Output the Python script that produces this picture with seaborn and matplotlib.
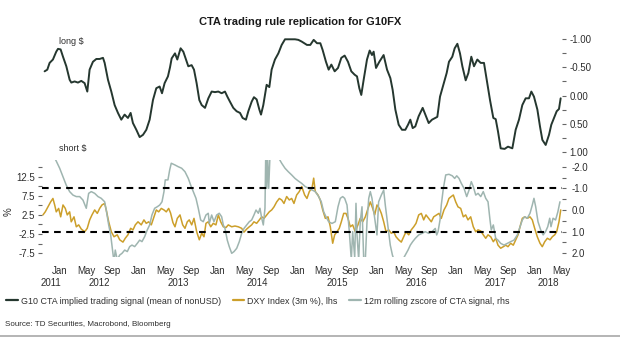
import matplotlib
matplotlib.use("Agg")
import matplotlib.pyplot as plt
import matplotlib.transforms as mtransforms
from matplotlib.lines import Line2D
import numpy as np
import pandas as pd
import seaborn as sns

sns.set_style("white")
plt.rcParams["font.family"] = ["Liberation Sans", "DejaVu Sans"]

# ---------------- data (x in decimal years) ----------------
cta_year = [2011.810, 2011.844, 2011.873, 2011.915, 2011.957, 2011.979, 2012.012, 2012.042, 2012.084, 2012.126,
            2012.147, 2012.189, 2012.231, 2012.273, 2012.315, 2012.349, 2012.378, 2012.420, 2012.463, 2012.505,
            2012.547, 2012.568, 2012.610, 2012.652, 2012.694, 2012.736, 2012.778, 2012.820, 2012.862, 2012.896,
            2012.925, 2012.968, 2013.010, 2013.052, 2013.094, 2013.136, 2013.178, 2013.220, 2013.262, 2013.292,
            2013.325, 2013.367, 2013.393, 2013.414, 2013.456, 2013.485, 2013.527, 2013.561, 2013.595, 2013.624,
            2013.666, 2013.696, 2013.729, 2013.763, 2013.793, 2013.835, 2013.877, 2013.919, 2013.961, 2014.003,
            2014.045, 2014.087, 2014.117, 2014.150, 2014.192, 2014.234, 2014.277, 2014.310, 2014.352, 2014.382,
            2014.424, 2014.453, 2014.487, 2014.521, 2014.542, 2014.571, 2014.613, 2014.647, 2014.676, 2014.718,
            2014.761, 2014.803, 2014.845, 2014.908, 2014.971, 2015.013, 2015.055, 2015.122, 2015.164, 2015.207,
            2015.249, 2015.291, 2015.320, 2015.362, 2015.396, 2015.430, 2015.472, 2015.514, 2015.556, 2015.598,
            2015.640, 2015.682, 2015.724, 2015.754, 2015.783, 2015.808, 2015.838, 2015.880, 2015.914, 2015.943,
            2015.964, 2015.994, 2016.036, 2016.090, 2016.133, 2016.175, 2016.204, 2016.238, 2016.280, 2016.322,
            2016.364, 2016.398, 2016.427, 2016.457, 2016.490, 2016.532, 2016.583, 2016.625, 2016.659, 2016.701,
            2016.743, 2016.768, 2016.802, 2016.844, 2016.886, 2016.915, 2016.957, 2016.987, 2017.021, 2017.054,
            2017.084, 2017.126, 2017.160, 2017.197, 2017.231, 2017.273, 2017.315, 2017.357, 2017.391, 2017.433,
            2017.475, 2017.505, 2017.534, 2017.568, 2017.618, 2017.660, 2017.715, 2017.757, 2017.799, 2017.841,
            2017.883, 2017.925, 2017.955, 2017.988, 2018.031, 2018.064, 2018.094, 2018.136, 2018.178, 2018.207,
            2018.241, 2018.275, 2018.304, 2018.325]
cta_signal = [-0.43, -0.46, -0.58, -0.64, -0.78, -0.83, -0.82, -0.69, -0.52, -0.28,
              -0.23, -0.25, -0.23, -0.26, -0.22, -0.07, -0.46, -0.60, -0.65, -0.65,
              -0.67, -0.58, -0.28, -0.07, 0.17, 0.31, 0.43, 0.34, 0.40, 0.31,
              0.49, 0.61, 0.74, 0.70, 0.61, 0.43, 0.08, -0.13, -0.16, -0.04,
              -0.22, -0.34, -0.50, -0.66, -0.75, -0.64, -0.84, -0.78, -0.64, -0.52,
              -0.54, -0.46, -0.22, 0.08, 0.17, 0.22, 0.05, -0.07, -0.06, -0.07,
              -0.04, -0.07, 0.02, 0.11, 0.22, 0.28, 0.31, 0.40, 0.43, 0.28,
              0.11, 0.03, 0.07, 0.25, 0.34, 0.17, -0.19, -0.15, -0.46, -0.64,
              -0.75, -0.90, -1.00, -1.00, -1.00, -0.99, -0.96, -0.90, -0.90, -0.99,
              -0.93, -0.93, -0.81, -0.60, -0.46, -0.55, -0.43, -0.49, -0.67, -0.71,
              -0.60, -0.43, -0.37, -0.34, -0.13, -0.01, -0.28, -0.64, -0.80, -0.72,
              -0.78, -0.49, -0.60, -0.72, -0.46, -0.31, -0.10, 0.25, 0.52, 0.61,
              0.61, 0.52, 0.43, 0.58, 0.55, 0.37, 0.22, 0.37, 0.49, 0.43,
              0.40, 0.38, 0.02, -0.19, -0.40, -0.60, -0.69, -0.84, -0.92, -0.75,
              -0.52, -0.27, -0.40, -0.69, -0.52, -0.64, -0.58, -0.58, -0.28, 0.08,
              0.40, 0.42, 0.64, 0.94, 0.95, 0.91, 0.94, 0.61, 0.43, 0.17,
              0.05, 0.05, -0.07, 0.02, 0.25, 0.55, 0.79, 0.88, 0.70, 0.52,
              0.40, 0.28, 0.24, 0.05]

dxy_year = [2011.789, 2011.818, 2011.852, 2011.886, 2011.915, 2011.937, 2011.957, 2011.987, 2012.013, 2012.042,
            2012.071, 2012.096, 2012.126, 2012.146, 2012.181, 2012.210, 2012.240, 2012.273, 2012.316, 2012.348,
            2012.379, 2012.408, 2012.442, 2012.475, 2012.505, 2012.534, 2012.568, 2012.588, 2012.619, 2012.652,
            2012.686, 2012.727, 2012.758, 2012.799, 2012.828, 2012.862, 2012.896, 2012.926, 2012.955, 2012.989,
            2013.030, 2013.064, 2013.093, 2013.124, 2013.157, 2013.191, 2013.220, 2013.250, 2013.283, 2013.317,
            2013.346, 2013.376, 2013.400, 2013.430, 2013.456, 2013.485, 2013.519, 2013.553, 2013.582, 2013.611,
            2013.636, 2013.667, 2013.696, 2013.730, 2013.763, 2013.793, 2013.822, 2013.847, 2013.876, 2013.907,
            2013.939, 2013.973, 2014.003, 2014.033, 2014.066, 2014.100, 2014.129, 2014.172, 2014.213, 2014.255,
            2014.298, 2014.327, 2014.361, 2014.394, 2014.424, 2014.453, 2014.487, 2014.520, 2014.551, 2014.580,
            2014.614, 2014.646, 2014.677, 2014.706, 2014.740, 2014.773, 2014.803, 2014.832, 2014.866, 2014.899,
            2014.929, 2014.958, 2014.992, 2015.025, 2015.056, 2015.093, 2015.122, 2015.152, 2015.186, 2015.207,
            2015.227, 2015.261, 2015.290, 2015.321, 2015.354, 2015.388, 2015.417, 2015.447, 2015.472, 2015.501,
            2015.530, 2015.556, 2015.586, 2015.615, 2015.640, 2015.669, 2015.699, 2015.732, 2015.766, 2015.795,
            2015.826, 2015.859, 2015.893, 2015.922, 2015.952, 2015.977, 2016.006, 2016.035, 2016.061, 2016.091,
            2016.120, 2016.154, 2016.187, 2016.217, 2016.246, 2016.280, 2016.313, 2016.343, 2016.372, 2016.407,
            2016.439, 2016.470, 2016.499, 2016.533, 2016.566, 2016.596, 2016.625, 2016.659, 2016.692, 2016.722,
            2016.760, 2016.789, 2016.818, 2016.852, 2016.886, 2016.915, 2016.944, 2016.970, 2017.000, 2017.029,
            2017.063, 2017.096, 2017.126, 2017.155, 2017.189, 2017.222, 2017.253, 2017.282, 2017.316, 2017.348,
            2017.379, 2017.408, 2017.442, 2017.475, 2017.505, 2017.534, 2017.568, 2017.601, 2017.631, 2017.660,
            2017.694, 2017.727, 2017.758, 2017.787, 2017.812, 2017.841, 2017.871, 2017.904, 2017.938, 2017.967,
            2017.997, 2018.030, 2018.064, 2018.093, 2018.124, 2018.157, 2018.191, 2018.220, 2018.250, 2018.275,
            2018.304, 2018.326]
dxy_3m = [2.5, 3.3, 4.6, 5.9, 6.8, 5.1, 3.3, 4.2, 2.0, 5.1,
          4.2, 2.5, 3.3, 0.7, 2.0, -0.6, -0.1, -1.2, -1.9, -1.0,
          1.2, 2.5, 3.8, 2.9, 4.2, 5.1, 5.5, 3.8, 0.7, -1.9,
          -3.2, -2.7, -4.0, -4.6, -3.6, -2.7, -1.0, -1.4, -0.1, 0.7,
          -0.1, 1.2, 0.3, 0.7, -0.1, 2.0, 3.8, 3.3, 4.2, 3.8,
          3.3, 4.2, 3.0, 0.5, -0.6, 1.6, 2.5, -0.1, -1.0, 0.7,
          1.2, -0.1, 1.6, -1.9, -4.0, -2.3, -3.2, 0.3, 0.7, -0.6,
          0.3, -0.1, 2.5, 0.7, -0.6, -0.8, -0.1, -0.6, -0.4, -0.6,
          -1.0, -2.0, -1.2, -0.6, -0.1, 0.7, 0.3, 1.2, 2.0, 1.6,
          2.5, 3.3, 3.8, 4.6, 5.9, 6.8, 6.4, 5.5, 7.3, 6.4,
          6.8, 5.5, 7.7, 8.6, 9.9, 7.7, 6.8, 8.6, 9.5, 12.1,
          8.6, 7.7, 6.4, 3.8, 1.6, 2.0, -0.6, -4.9, -2.7, -1.9,
          -1.0, 0.7, 2.9, 2.9, 1.6, -0.6, -0.1, -1.9, -0.1, 1.6,
          0.7, 2.0, 4.2, 5.9, 4.2, 2.5, 5.1, 4.2, 2.9, 0.7,
          -1.9, -1.4, -2.3, -1.9, -3.2, -4.0, -4.6, -3.2, -1.9, -2.7,
          -1.4, -0.6, 0.3, 2.5, 2.9, 1.2, 2.5, 1.6, 0.7, 2.0,
          2.5, 2.9, 1.6, 3.8, 5.1, 6.8, 7.3, 7.7, 5.9, 4.6,
          4.2, 2.0, 2.5, 1.2, 2.0, -0.6, -1.9, -1.4, -1.7, -2.7,
          -3.6, -2.7, -3.2, -4.5, -3.6, -5.4, -6.2, -5.8, -5.4, -5.8,
          -4.9, -5.4, -4.0, -2.7, -0.6, 1.6, 2.0, 1.6, 2.0, 1.2,
          -1.0, -3.2, -4.9, -5.8, -4.5, -3.6, -4.0, -3.2, -2.7, -1.9,
          0.7, 3.8]

z_year = [2011.930, 2011.957, 2012.000, 2012.042, 2012.083, 2012.126, 2012.168, 2012.210, 2012.253, 2012.294,
          2012.336, 2012.366, 2012.399, 2012.442, 2012.484, 2012.525, 2012.568, 2012.588, 2012.619, 2012.644,
          2012.660, 2012.686, 2012.702, 2012.727, 2012.758, 2012.787, 2012.821, 2012.854, 2012.884, 2012.913,
          2012.947, 2012.980, 2013.010, 2013.039, 2013.073, 2013.106, 2013.136, 2013.165, 2013.199, 2013.232,
          2013.263, 2013.292, 2013.317, 2013.333, 2013.367, 2013.389, 2013.409, 2013.456, 2013.497, 2013.540,
          2013.582, 2013.624, 2013.654, 2013.687, 2013.721, 2013.750, 2013.780, 2013.813, 2013.847, 2013.876,
          2013.889, 2013.919, 2013.948, 2013.982, 2014.015, 2014.045, 2014.066, 2014.087, 2014.116, 2014.141,
          2014.172, 2014.201, 2014.235, 2014.268, 2014.298, 2014.327, 2014.361, 2014.394, 2014.424, 2014.453,
          2014.479, 2014.508, 2014.529, 2014.551, 2014.571, 2014.592, 2014.601, 2014.614, 2014.626, 2014.639,
          2014.655, 2014.700, 2014.750, 2014.803, 2014.845, 2014.886, 2014.929, 2014.971, 2015.013, 2015.056,
          2015.101, 2015.144, 2015.186, 2015.227, 2015.270, 2015.303, 2015.333, 2015.362, 2015.396, 2015.438,
          2015.480, 2015.514, 2015.543, 2015.573, 2015.598, 2015.628, 2015.657, 2015.682, 2015.699, 2015.725,
          2015.741, 2015.754, 2015.775, 2015.795, 2015.817, 2015.838, 2015.859, 2015.880, 2015.902, 2015.922,
          2015.943, 2015.977, 2016.006, 2016.027, 2016.061, 2016.091, 2016.111, 2016.145, 2016.174, 2016.201,
          2016.230, 2016.300, 2016.364, 2016.398, 2016.427, 2016.457, 2016.490, 2016.533, 2016.574, 2016.616,
          2016.659, 2016.701, 2016.742, 2016.760, 2016.777, 2016.802, 2016.818, 2016.844, 2016.874, 2016.915,
          2016.957, 2016.987, 2017.013, 2017.042, 2017.071, 2017.105, 2017.139, 2017.168, 2017.197, 2017.222,
          2017.253, 2017.282, 2017.316, 2017.348, 2017.379, 2017.408, 2017.433, 2017.449, 2017.475, 2017.505,
          2017.534, 2017.568, 2017.610, 2017.652, 2017.694, 2017.736, 2017.778, 2017.813, 2017.841, 2017.871,
          2017.904, 2017.938, 2017.967, 2017.988, 2018.010, 2018.039, 2018.073, 2018.104, 2018.134, 2018.162,
          2018.187, 2018.203, 2018.229, 2018.261, 2018.290, 2018.316]
z_score = [-2.45, -2.26, -1.93, -1.54, -1.15, -0.85, -0.69, -0.62, -0.62, -0.46,
           -0.08, -0.77, -0.85, -0.77, -0.62, -0.54, -0.38, 0.00, 0.69, 1.15,
           1.62, 2.40, 1.85, 2.30, 2.08, 2.00, 1.85, 1.92, 1.69, 1.62,
           1.69, 1.54, 1.39, 1.46, 1.23, 0.92, 0.69, 0.23, -0.08, -0.15,
           -0.23, -0.38, -0.85, -1.39, -1.39, -1.85, -2.16, -2.08, -2.00, -1.93,
           -1.77, -1.46, -1.15, -0.85, -0.54, -0.08, 0.46, 0.54, 0.23, 0.15,
           0.62, 0.23, 0.54, 0.23, 0.15, 0.31, 0.69, 0.85, 1.39, 1.69,
           2.00, 1.92, 1.77, 1.46, 1.08, 0.85, 0.69, 0.54, 0.46, 0.23,
           0.00, 0.15, -0.08, 0.38, 0.69, -0.08, -2.40, -1.00, -2.40, -1.00,
           -2.50, -2.60, -2.50, -2.16, -1.93, -1.77, -1.62, -1.46, -1.34, -1.23,
           -1.08, -1.00, -0.92, -0.85, -0.62, -0.38, 0.08, 0.31, 0.54, 0.62,
           0.54, -0.15, -0.54, -0.62, -0.54, -0.23, 1.00, 2.30, 1.00, 2.20,
           -0.31, 1.15, 2.30, 0.54, -0.15, 2.20, 2.30, 0.54, -0.54, -0.85,
           -0.54, 0.38, 1.15, -0.38, -0.69, -0.92, -0.23, 0.77, 1.62, 2.08,
           2.40, 2.50, 2.08, 1.85, 1.62, 1.46, 1.31, 1.15, 1.08, 1.00,
           1.08, 1.00, 0.85, 1.15, 1.00, 0.46, -0.23, -1.00, -1.62, -1.65,
           -1.58, -1.46, -1.58, -1.46, -1.23, -1.00, -0.62, -0.92, -1.31, -1.08,
           -0.69, -0.77, -0.62, -0.85, -0.54, -0.38, 0.46, 0.92, 0.69, 1.31,
           1.39, 1.54, 1.62, 1.54, 1.46, 1.39, 1.15, 0.77, 0.46, 0.31,
           0.38, 0.15, -0.23, -0.54, -0.15, 0.54, 0.92, 1.15, 1.00, 0.77,
           0.38, 0.77, 0.38, 0.46, 0.08, -0.38]

top_ticks = [-1.0, -0.75, -0.5, -0.25, 0.0, 0.25, 0.5, 0.75, 1.0]
top_labels = ["-1.00", "", "-0.50", "", "0.00", "", "0.50", "", "1.00"]
lhs_ticks = [15, 12.5, 10, 7.5, 5, 2.5, 0, -2.5, -5, -7.5]
lhs_labels = ["", "12.5", "", "7.5", "", "2.5", "", "-2.5", "", "-7.5"]
rhs_ticks = [-2.0, -1.5, -1.0, -0.5, 0.0, 0.5, 1.0, 1.5, 2.0]
rhs_labels = ["-2.0", "", "-1.0", "", "0.0", "", "1.0", "", "2.0"]
signal_bands = [-1.0, 1.0]
years = [2011, 2012, 2013, 2014, 2015, 2016, 2017, 2018]

title = "CTA trading rule replication for G10FX"
legend_names = ["G10 CTA implied trading signal (mean of nonUSD)",
                "DXY Index (3m %), lhs",
                "12m rolling zscore of CTA signal, rhs"]
source = "Source: TD Securities, Macrobond, Bloomberg"

# ---------------- styling ----------------
C_CTA = "#25372f"
C_DXY = "#cc9f2a"
C_Z = "#9fb5b0"
C_TXT = "#2e2e2e"
C_TICK = "#666666"

W, H = 620, 338
fig = plt.figure(figsize=(W / 100, H / 100), dpi=100)
fig.patch.set_facecolor("white")

x0, x1 = 42 / W, 562 / W
ax_top = fig.add_axes([x0, 1 - 156.2 / H, x1 - x0, (156.2 - 34.8) / H])
ax_bot = fig.add_axes([x0, 1 - 257 / H, x1 - x0, (257 - 160) / H])
ax_z = ax_bot.twinx()

XMIN, XMAX = 2011.777, 2018.342

cta = pd.DataFrame({"year": cta_year, "signal": cta_signal})
dxy = pd.DataFrame({"year": dxy_year, "pct": dxy_3m})
zs = pd.DataFrame({"year": z_year, "z": z_score})

sns.lineplot(data=cta, x="year", y="signal", ax=ax_top, color=C_CTA, lw=1.4)
sns.lineplot(data=dxy, x="year", y="pct", ax=ax_bot, color=C_DXY, lw=1.1)
sns.lineplot(data=zs, x="year", y="z", ax=ax_z, color=C_Z, lw=1.1)
for b in signal_bands:
    ax_z.axhline(b, color="black", lw=1.5, ls=(0, (3.2, 2.6)), zorder=5)

for ax in (ax_top, ax_bot, ax_z):
    ax.set_xlim(XMIN, XMAX)
    for s in ax.spines.values():
        s.set_visible(False)
    ax.set_xlabel("")
    ax.set_ylabel("")
    ax.set_facecolor("none")
    ax.grid(False)

# top panel: inverted right axis
ax_top.set_ylim(1.08, -1.08)
ax_top.set_xticks([])
ax_top.yaxis.tick_right()
ax_top.set_yticks(top_ticks)
ax_top.set_yticklabels(top_labels)
ax_top.tick_params(axis="y", direction="out", length=2.6, width=0.8, color=C_TICK,
                   labelsize=7, labelcolor=C_TXT, pad=3)

# bottom panel: lhs percent, rhs inverted zscore
ax_bot.set_ylim(-8.49, 16.84)
ax_bot.set_yticks(lhs_ticks)
ax_bot.set_yticklabels(lhs_labels)
ax_bot.tick_params(axis="y", direction="out", length=2.6, width=0.8, color=C_TICK,
                   labelsize=7, labelcolor=C_TXT, pad=2.5)
ax_z.set_ylim(2.17, -2.31)
ax_z.set_yticks(rhs_ticks)
ax_z.set_yticklabels(rhs_labels)
ax_z.tick_params(axis="y", direction="out", length=2.6, width=0.8, color=C_TICK,
                 labelsize=7, labelcolor=C_TXT, pad=4)

# month ticks (Jan as major, May/Sep as minor)
jan = [y + 0.0 for y in range(2012, 2019)]
mid = [y + m for y in range(2012, 2019) for m in (1 / 3, 2 / 3) if y + m < XMAX]
ax_bot.set_xticks(jan)
ax_bot.set_xticklabels(["Jan"] * len(jan))
ax_bot.set_xticks(mid, minor=True)
ax_bot.set_xticklabels(["May" if abs(v % 1 - 1 / 3) < 0.01 else "Sep" for v in mid], minor=True)
ax_bot.tick_params(axis="x", which="major", direction="out", length=3, width=0.8,
                   color=C_TICK, labelsize=7, labelcolor=C_TXT, pad=3.2)
ax_bot.tick_params(axis="x", which="minor", direction="out", length=1.8, width=0.8,
                   color=C_TICK, labelsize=7, labelcolor=C_TXT, pad=4.4)

# year labels centred under the visible part of each year
yt = mtransforms.blended_transform_factory(ax_bot.transData, fig.transFigure)
for y in years:
    a, b = max(y, XMIN), min(y + 1, XMAX)
    if b > a:
        ax_bot.text((a + b) / 2, 1 - 283 / H, str(y), transform=yt, ha="center",
                    va="center", fontsize=7, color=C_TXT)

fig.text(300 / W, 1 - 22 / H, title, ha="center", va="center", fontsize=8,
         fontweight="bold", color="#1a1a1a")
fig.text(59 / W, 1 - 41 / H, "long $", ha="left", va="center", fontsize=6.5, color=C_TXT)
fig.text(59 / W, 1 - 149 / H, "short $", ha="left", va="center", fontsize=6.5, color=C_TXT)
fig.text(9 / W, 1 - 212 / H, "%", ha="center", va="center", rotation=90, fontsize=7, color=C_TXT)

handles = [Line2D([], [], color=C_CTA, lw=1.6), Line2D([], [], color=C_DXY, lw=1.6),
           Line2D([], [], color=C_Z, lw=1.6)]
fig.legend(handles, legend_names, loc="center left", bbox_to_anchor=(0.0, 1 - 301 / H),
           ncol=3, frameon=False, fontsize=6.4, handlelength=1.3, handletextpad=0.35,
           columnspacing=1.3, labelcolor=C_TXT, borderaxespad=0.3)

fig.text(5 / W, 1 - 325 / H, source, ha="left", va="center", fontsize=5.8, color=C_TXT)
fig.add_artist(Line2D([0, 1], [1 - 335.5 / H, 1 - 335.5 / H], color="#a8a8a8", lw=1.2))

fig.savefig("out.png", dpi=100, facecolor="white")
